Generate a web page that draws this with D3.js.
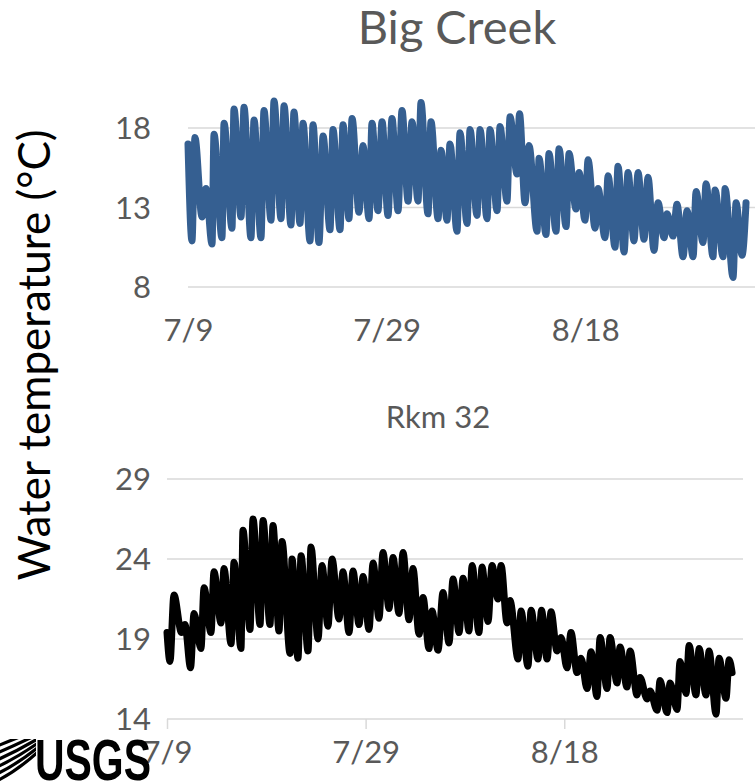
<!DOCTYPE html>
<html>
<head>
<meta charset="utf-8">
<script src="https://cdn.jsdelivr.net/npm/d3@7"></script>
<style>
  html, body { margin: 0; padding: 0; background: #fff; }
  svg { display: block; font-family: Lato, "Open Sans", sans-serif; }
</style>
</head>
<body>
<svg id="chart" width="755" height="783"></svg>
<script>
// Daily high/low turning points, in days since 7/9, and water temperature (°C)
const bigCreekDay = [0,0.40,0.70,1.41,1.81,2.42,2.62,3.42,3.63,4.43,4.63,5.34,5.64,6.34,6.65,7.35,7.65,8.36,8.66,9.37,9.67,10.37,10.67,11.28,11.58,12.29,12.59,13.19,13.60,14.30,14.60,15.31,15.61,16.21,16.52,17.22,17.62,18.23,18.53,19.13,19.54,20.14,20.54,21.15,21.55,22.16,22.56,23.16,23.46,24.17,24.47,25.18,25.48,26.08,26.38,27.09,27.39,28.10,28.40,29.10,29.41,30.11,30.41,31.12,31.42,32.12,32.43,33.13,33.38,33.94,34.34,35.15,35.35,36.05,36.35,37.06,37.36,38.07,38.37,39.07,39.38,39.98,40.28,40.99,41.29,41.99,42.30,43.00,43.30,43.91,44.31,44.91,45.32,45.92,46.32,46.93,47.33,47.94,48.24,48.84,49.24,49.85,50.25,50.86,51.16,51.86,52.16,52.87,53.07,53.88,54.08,54.88,55.19,55.79,56.19];
const bigCreekTemp = [17.0,10.9,17.4,12.4,14.2,10.7,17.6,11.1,18.3,11.7,19.2,12.4,19.3,11.1,18.5,11.1,19.1,12.2,19.7,12.3,19.4,11.9,19.0,12.0,18.3,10.9,18.2,10.8,17.5,11.6,17.9,11.6,18.2,12.3,18.6,12.7,16.9,12.3,18.3,12.8,18.4,12.5,18.6,12.8,19.1,13.4,18.4,13.4,19.6,12.6,18.4,12.3,16.6,12.2,17.0,11.5,17.7,12.0,17.9,12.5,17.9,12.3,17.9,12.8,18.1,13.4,18.7,15.1,18.9,13.3,16.9,11.5,16.1,11.3,16.4,11.5,16.7,11.8,16.4,12.9,15.2,12.2,16.0,11.7,14.2,11.1,15.0,10.5,15.6,10.2,15.2,10.9,15.2,11.0,14.9,10.3,13.3,11.1,12.6,11.2,13.2,9.9,12.8,9.9,14.0,10.8,14.5,9.9,14.1,9.9,14.2,8.6,13.3,10.0,13.3];

const rkm32Day = [0,0.30,0.70,1.46,1.81,2.37,2.72,3.42,3.73,4.43,4.73,5.44,5.74,6.45,6.75,7.45,7.65,8.36,8.66,9.37,9.67,10.37,10.67,11.28,11.58,12.39,12.59,13.19,13.50,14.20,14.50,15.21,15.61,16.21,16.62,17.32,17.72,18.33,18.73,19.34,19.74,20.34,20.75,21.35,21.75,22.36,22.76,23.36,23.77,24.37,24.77,25.38,25.78,26.38,26.69,27.29,27.79,28.40,28.80,29.41,29.81,30.41,30.72,31.42,31.72,32.33,32.73,33.33,33.64,34.24,34.54,35.35,35.65,36.35,36.66,37.36,37.71,38.27,38.67,39.27,39.68,40.28,40.68,41.29,41.69,42.30,42.70,43.30,43.61,44.31,44.61,45.32,45.62,46.32,46.63,47.33,47.63,48.34,48.64,49.35,49.65,50.35,50.66,51.36,51.66,52.27,52.57,53.27,53.58,54.28,54.58,55.29,55.59,56.29,56.60,56.90];
const rkm32Temp = [19.4,17.6,21.75,19.4,19.9,17.2,20.6,18.4,22.2,19.4,23.2,20.0,23.4,18.7,23.8,18.4,25.8,19.6,26.5,19.9,26.4,19.9,26.1,19.5,25.1,18.1,24.0,17.8,24.2,18.25,24.75,19.0,23.6,19.8,24.0,20.25,23.2,19.4,23.25,19.9,22.9,19.6,23.75,20.3,24.4,20.9,24.1,20.6,24.4,20.2,23.4,19.3,21.6,18.4,20.75,18.3,21.9,18.75,22.75,19.4,22.8,19.5,23.6,19.4,23.5,20.1,23.6,21.5,23.6,20.0,21.4,17.75,20.75,17.3,20.8,17.75,20.8,17.75,20.7,18.25,19.1,17.2,19.4,16.9,17.8,15.9,18.2,15.4,19.1,15.9,19.1,16.25,18.5,16.0,18.25,15.5,16.6,15.25,15.75,14.55,16.4,14.4,16.25,14.6,17.6,15.6,18.6,15.5,18.4,15.5,18.25,14.3,17.8,15.3,17.7,16.9];

const dateTicks = [0, 20, 40];
const dateLabels = ["7/9", "7/29", "8/18"];
const bigCreekTicks = [8, 13, 18];
const rkm32Ticks = [14, 19, 24, 29];

const svg = d3.select("#chart");
const gridColor = "#d9d9d9";
const textColor = "#595959";

function panel(opts) {
  const x = d3.scaleLinear().domain([0, 58]).range([opts.left, opts.left + 576]);
  const y = d3.scaleLinear().domain(opts.yDomain).range(opts.yRange);
  const g = svg.append("g");

  // horizontal gridlines
  g.selectAll("line.grid").data(opts.ticks).join("line")
    .attr("x1", x(0)).attr("x2", x(58))
    .attr("y1", d => y(d)).attr("y2", d => y(d))
    .attr("stroke", gridColor).attr("stroke-width", 1.5);

  // y tick labels
  g.selectAll("text.ytick").data(opts.ticks).join("text")
    .attr("x", 151).attr("y", d => y(d))
    .attr("dy", "0.36em")
    .attr("text-anchor", "end")
    .attr("fill", textColor).attr("font-size", 31)
    .text(d => d);

  // date axis
  const xAxis = g.append("g").attr("transform", `translate(0,${y(opts.ticks[0])})`)
    .call(d3.axisBottom(x).tickValues(dateTicks)
      .tickFormat((d, i) => dateLabels[i])
      .tickSize(opts.tickMarks ? 10 : 0).tickPadding(opts.labelPad));
  xAxis.select(".domain").remove();
  xAxis.selectAll(".tick line").attr("stroke", gridColor).attr("stroke-width", 1.5);
  xAxis.selectAll(".tick text")
    .attr("fill", textColor).attr("font-size", 31)
    .attr("font-family", "Lato, 'Open Sans', sans-serif");

  // temperature trace
  const pts = opts.days.map((d, i) => [d, opts.temps[i]]);
  g.append("path")
    .datum(pts)
    .attr("fill", "none")
    .attr("stroke", opts.color)
    .attr("stroke-width", 7)
    .attr("stroke-linejoin", "round")
    .attr("stroke-linecap", "round")
    .attr("d", d3.line().x(d => x(d[0])).y(d => y(d[1])).curve(d3.curveMonotoneX));

  // panel title
  svg.append("text")
    .attr("x", opts.titleX).attr("y", opts.titleY)
    .attr("text-anchor", "middle")
    .attr("fill", textColor)
    .attr("font-size", opts.titleSize)
    .text(opts.title);
}

panel({
  title: "Big Creek", titleX: 457, titleY: 44, titleSize: 47,
  left: 188, yDomain: [8, 18], yRange: [287, 128],
  ticks: bigCreekTicks, days: bigCreekDay, temps: bigCreekTemp,
  color: "#355f91", tickMarks: false, labelPad: 32
});

panel({
  title: "Rkm 32", titleX: 438, titleY: 428, titleSize: 31,
  left: 167, yDomain: [14, 29], yRange: [719, 479],
  ticks: rkm32Ticks, days: rkm32Day, temps: rkm32Temp,
  color: "#000000", tickMarks: true, labelPad: 12
});

// shared y-axis title
svg.append("text")
  .attr("transform", "translate(50,355) rotate(-90)")
  .attr("text-anchor", "middle")
  .attr("fill", "#000")
  .attr("font-size", 44)
  .text("Water temperature (°C)");

// USGS identifier
const logo = svg.append("g").attr("transform", "translate(0,735)");
logo.append("clipPath").attr("id", "waveClip")
  .append("rect").attr("x", 0).attr("y", 4).attr("width", 36).attr("height", 42);
const waves = logo.append("g").attr("clip-path", "url(#waveClip)");
[0, 7, 14, 21, 28, 35].forEach(o => {
  waves.append("path")
    .attr("d", `M${-10},${14 + o} Q${14},${4 + o} ${40},${-6 + o * 0.6}`)
    .attr("fill", "none").attr("stroke", "#000").attr("stroke-width", 3.2);
});
logo.append("text")
  .attr("x", 35).attr("y", 45)
  .attr("font-family", "'Liberation Sans Narrow', 'Liberation Sans', sans-serif")
  .attr("font-weight", "bold")
  .attr("font-size", 58)
  .attr("textLength", 116)
  .attr("lengthAdjust", "spacingAndGlyphs")
  .attr("fill", "#000")
  .text("USGS");
</script>
</body>
</html>
